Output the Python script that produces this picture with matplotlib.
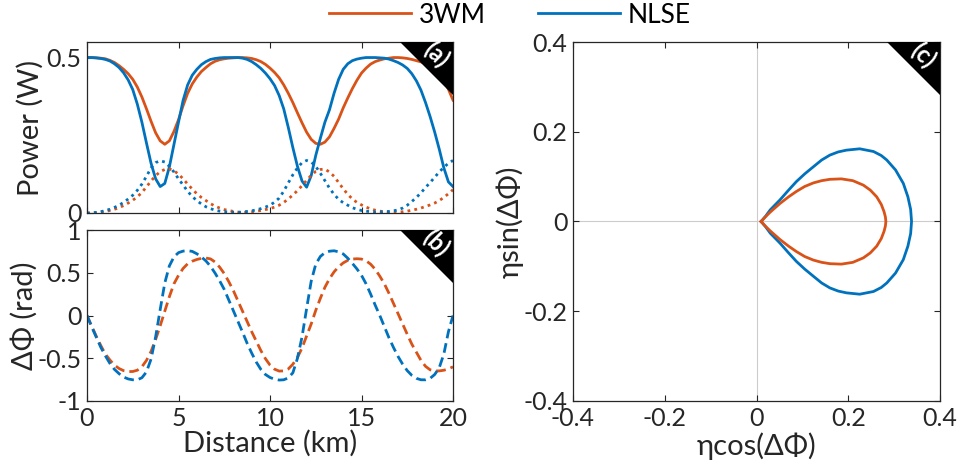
import matplotlib
matplotlib.use('Agg')
import matplotlib.pyplot as plt
from matplotlib.patches import Polygon
from matplotlib.lines import Line2D

plt.rcParams['font.family'] = ['Lato', 'Noto Sans']
plt.rcParams['axes.unicode_minus'] = False

# distance samples (km), every 0.25 km
distance_km = [0, 0.25, 0.5, 0.75, 1, 1.25, 1.5, 1.75, 2, 2.25,
               2.5, 2.75, 3, 3.25, 3.5, 3.75, 4, 4.25, 4.5, 4.75,
               5, 5.25, 5.5, 5.75, 6, 6.25, 6.5, 6.75, 7, 7.25,
               7.5, 7.75, 8, 8.25, 8.5, 8.75, 9, 9.25, 9.5, 9.75,
               10, 10.25, 10.5, 10.75, 11, 11.25, 11.5, 11.75, 12, 12.25,
               12.5, 12.75, 13, 13.25, 13.5, 13.75, 14, 14.25, 14.5, 14.75,
               15, 15.25, 15.5, 15.75, 16, 16.25, 16.5, 16.75, 17, 17.25,
               17.5, 17.75, 18, 18.25, 18.5, 18.75, 19, 19.25, 19.5, 19.75,
               20]

# pump power (W)
pump_3wm = [0.500, 0.500, 0.499, 0.498, 0.496, 0.491, 0.484, 0.474, 0.462, 0.448,
            0.430, 0.405, 0.373, 0.335, 0.295, 0.258, 0.232, 0.221, 0.232, 0.262,
            0.300, 0.345, 0.385, 0.415, 0.437, 0.455, 0.468, 0.480, 0.488, 0.493,
            0.496, 0.498, 0.499, 0.500, 0.500, 0.499, 0.497, 0.493, 0.487, 0.478,
            0.466, 0.452, 0.435, 0.412, 0.385, 0.355, 0.322, 0.290, 0.260, 0.237,
            0.224, 0.221, 0.228, 0.245, 0.272, 0.302, 0.338, 0.370, 0.400, 0.427,
            0.450, 0.466, 0.479, 0.487, 0.492, 0.496, 0.498, 0.500, 0.500, 0.499,
            0.497, 0.494, 0.490, 0.486, 0.480, 0.472, 0.462, 0.447, 0.427, 0.398,
            0.363]
pump_nlse = [0.500, 0.500, 0.499, 0.497, 0.494, 0.489, 0.480, 0.468, 0.451, 0.428,
             0.397, 0.350, 0.292, 0.225, 0.160, 0.110, 0.085, 0.095, 0.148, 0.220,
             0.292, 0.362, 0.412, 0.443, 0.462, 0.477, 0.487, 0.494, 0.497, 0.499,
             0.500, 0.500, 0.500, 0.500, 0.498, 0.494, 0.487, 0.477, 0.465, 0.450,
             0.432, 0.410, 0.378, 0.335, 0.275, 0.210, 0.150, 0.103, 0.083, 0.120,
             0.185, 0.240, 0.292, 0.332, 0.385, 0.430, 0.462, 0.480, 0.490, 0.495,
             0.498, 0.500, 0.500, 0.500, 0.499, 0.498, 0.495, 0.490, 0.484, 0.476,
             0.465, 0.448, 0.425, 0.395, 0.355, 0.310, 0.260, 0.205, 0.145, 0.100,
             0.085]

# sideband power (W)
side_3wm = [0.000, 0.000, 0.001, 0.003, 0.005, 0.008, 0.012, 0.017, 0.024, 0.032,
            0.041, 0.052, 0.066, 0.084, 0.103, 0.120, 0.133, 0.140, 0.142, 0.136,
            0.125, 0.110, 0.093, 0.077, 0.062, 0.050, 0.040, 0.030, 0.022, 0.016,
            0.011, 0.008, 0.005, 0.003, 0.002, 0.003, 0.004, 0.006, 0.008, 0.011,
            0.014, 0.019, 0.025, 0.034, 0.045, 0.058, 0.072, 0.088, 0.105, 0.121,
            0.134, 0.140, 0.141, 0.132, 0.118, 0.098, 0.078, 0.060, 0.045, 0.034,
            0.026, 0.019, 0.013, 0.009, 0.006, 0.004, 0.003, 0.003, 0.003, 0.004,
            0.006, 0.009, 0.012, 0.016, 0.021, 0.026, 0.032, 0.040, 0.050, 0.062,
            0.075]
side_nlse = [0.000, 0.000, 0.002, 0.004, 0.008, 0.012, 0.018, 0.025, 0.034, 0.045,
             0.057, 0.073, 0.093, 0.118, 0.145, 0.162, 0.168, 0.164, 0.150, 0.132,
             0.110, 0.090, 0.070, 0.053, 0.040, 0.029, 0.020, 0.014, 0.009, 0.006,
             0.004, 0.003, 0.002, 0.002, 0.003, 0.005, 0.007, 0.010, 0.014, 0.019,
             0.025, 0.035, 0.048, 0.070, 0.097, 0.123, 0.145, 0.162, 0.169, 0.164,
             0.150, 0.128, 0.104, 0.080, 0.060, 0.044, 0.033, 0.025, 0.017, 0.012,
             0.008, 0.006, 0.004, 0.003, 0.003, 0.004, 0.005, 0.007, 0.010, 0.016,
             0.025, 0.037, 0.050, 0.065, 0.082, 0.098, 0.115, 0.132, 0.147, 0.160,
             0.169]

# relative phase (rad)
dphi_3wm = [0.000, -0.120, -0.240, -0.350, -0.450, -0.520, -0.580, -0.620, -0.645, -0.656,
            -0.655, -0.640, -0.600, -0.525, -0.420, -0.280, -0.120, 0.050, 0.220, 0.370,
            0.470, 0.550, 0.605, 0.635, 0.655, 0.668, 0.672, 0.662, 0.625, 0.565,
            0.490, 0.395, 0.290, 0.170, 0.050, -0.070, -0.190, -0.300, -0.410, -0.505,
            -0.580, -0.628, -0.650, -0.648, -0.625, -0.570, -0.490, -0.380, -0.240, -0.100,
            0.060, 0.200, 0.330, 0.430, 0.510, 0.570, 0.615, 0.645, 0.660, 0.664,
            0.660, 0.640, 0.600, 0.540, 0.460, 0.370, 0.260, 0.140, 0.020, -0.100,
            -0.220, -0.335, -0.430, -0.525, -0.595, -0.635, -0.648, -0.648, -0.640, -0.625,
            -0.600]
dphi_nlse = [0.000, -0.130, -0.250, -0.370, -0.470, -0.560, -0.630, -0.680, -0.720, -0.742,
             -0.752, -0.752, -0.728, -0.660, -0.510, -0.250, 0.070, 0.380, 0.580, 0.685,
             0.735, 0.753, 0.758, 0.750, 0.722, 0.685, 0.638, 0.575, 0.495, 0.405,
             0.305, 0.180, 0.055, -0.070, -0.195, -0.325, -0.440, -0.545, -0.630, -0.690,
             -0.725, -0.745, -0.755, -0.752, -0.730, -0.670, -0.500, -0.250, 0.080, 0.400,
             0.600, 0.690, 0.735, 0.752, 0.757, 0.745, 0.720, 0.670, 0.610, 0.545,
             0.470, 0.370, 0.250, 0.120, 0.000, -0.130, -0.260, -0.375, -0.480, -0.570,
             -0.645, -0.700, -0.735, -0.752, -0.752, -0.735, -0.690, -0.610, -0.450, -0.190,
             0.000]

# phase portrait loops (eta*cos, eta*sin)
loop_3wm_x = [0.010, 0.020, 0.030, 0.051, 0.070, 0.087, 0.105, 0.124, 0.142, 0.160, 0.185, 0.210,
              0.233, 0.248, 0.262, 0.272, 0.278, 0.281, 0.282,
              0.281, 0.278, 0.272, 0.262, 0.248, 0.233, 0.210, 0.185, 0.160, 0.142, 0.124,
              0.105, 0.087, 0.070, 0.051, 0.030, 0.020, 0.010]
loop_3wm_y = [0.000, 0.011, 0.021, 0.040, 0.055, 0.067, 0.078, 0.086, 0.091, 0.094, 0.095, 0.091,
              0.081, 0.070, 0.055, 0.038, 0.022, 0.010, 0.000,
              -0.010, -0.022, -0.038, -0.055, -0.070, -0.081, -0.091, -0.095, -0.094, -0.091, -0.086,
              -0.078, -0.067, -0.055, -0.040, -0.021, -0.011, 0.000]
loop_nlse_x = [0.010, 0.020, 0.030, 0.051, 0.070, 0.087, 0.105, 0.124, 0.142, 0.160, 0.178, 0.196,
               0.225, 0.255, 0.272, 0.284, 0.303, 0.320, 0.330, 0.336, 0.338,
               0.336, 0.330, 0.320, 0.303, 0.284, 0.272, 0.255, 0.225, 0.196, 0.178, 0.160,
               0.142, 0.124, 0.105, 0.087, 0.070, 0.051, 0.030, 0.020, 0.010]
loop_nlse_y = [0.000, 0.012, 0.026, 0.048, 0.070, 0.089, 0.106, 0.122, 0.137, 0.148, 0.155, 0.159,
               0.162, 0.156, 0.147, 0.137, 0.115, 0.085, 0.055, 0.027, 0.000,
               -0.027, -0.055, -0.085, -0.115, -0.137, -0.147, -0.156, -0.162, -0.159, -0.155, -0.148,
               -0.137, -0.122, -0.106, -0.089, -0.070, -0.048, -0.026, -0.012, 0.000]

c_3wm = '#D95319'
c_nlse = '#0072BD'
dark = '#262626'
W, H = 961, 468
fs_tick = 18
fs_label = 21

fig = plt.figure(figsize=(W / 100, H / 100), dpi=100)
ax_a = fig.add_axes([87 / W, 1 - 213 / H, 366 / W, 171 / H])
ax_b = fig.add_axes([87 / W, 1 - 401 / H, 366 / W, 171 / H])
ax_c = fig.add_axes([573 / W, 1 - 401 / H, 367 / W, 359 / H])


def style(ax):
    for s in ax.spines.values():
        s.set_color(dark)
        s.set_linewidth(0.9)
    ax.tick_params(direction='in', top=True, right=True, length=4, width=0.8,
                   colors=dark, labelsize=fs_tick, labelcolor=dark, pad=4)


def corner_tag(ax, label):
    pos = ax.get_position()
    w = pos.width * W
    h = pos.height * H
    tri = Polygon([(1 - 53 / w, 1), (1, 1), (1, 1 - 53 / h)], closed=True,
                  transform=ax.transAxes, facecolor='black', edgecolor='none',
                  clip_on=False, zorder=5)
    ax.add_patch(tri)
    ax.text(1 - 17 / w, 1 - 13 / h, label, transform=ax.transAxes, rotation=-45,
            ha='center', va='center', color='white', fontsize=17, fontweight='bold',
            zorder=6)


# (a) power
ax_a.plot(distance_km, pump_3wm, color=c_3wm, lw=2)
ax_a.plot(distance_km, pump_nlse, color=c_nlse, lw=2)
ax_a.plot(distance_km, side_3wm, color=c_3wm, lw=2, dashes=(1, 1.5))
ax_a.plot(distance_km, side_nlse, color=c_nlse, lw=2, dashes=(1, 1.5))
ax_a.set_xlim(0, 20)
ax_a.set_ylim(0, 0.55)
ax_a.set_xticks([0, 5, 10, 15, 20])
ax_a.set_xticklabels([])
ax_a.set_yticks([0, 0.5])
ax_a.set_yticklabels(['0', '0.5'])
ax_a.set_ylabel('Power (W)', fontsize=fs_label, color=dark, labelpad=2)
style(ax_a)
corner_tag(ax_a, '(a)')

# (b) phase
ax_b.plot(distance_km, dphi_3wm, color=c_3wm, lw=2, dashes=(3.5, 1.8))
ax_b.plot(distance_km, dphi_nlse, color=c_nlse, lw=2, dashes=(3.5, 1.8))
ax_b.set_xlim(0, 20)
ax_b.set_ylim(-1, 1)
ax_b.set_xticks([0, 5, 10, 15, 20])
ax_b.set_yticks([-1, -0.5, 0, 0.5, 1])
ax_b.set_yticklabels(['-1', '-0.5', '0', '0.5', '1'])
ax_b.set_xlabel('Distance (km)', fontsize=fs_label, color=dark, labelpad=0)
ax_b.set_ylabel('ΔΦ (rad)', fontsize=fs_label, color=dark, labelpad=0)
style(ax_b)
corner_tag(ax_b, '(b)')

# (c) phase portrait
ax_c.axhline(0, color='#cccccc', lw=0.8, zorder=0)
ax_c.axvline(0, color='#cccccc', lw=0.8, zorder=0)
ax_c.plot(loop_nlse_x, loop_nlse_y, color=c_nlse, lw=2)
ax_c.plot(loop_3wm_x, loop_3wm_y, color=c_3wm, lw=2)
ax_c.set_xlim(-0.4, 0.4)
ax_c.set_ylim(-0.4, 0.4)
ticks = [-0.4, -0.2, 0, 0.2, 0.4]
tick_labels = ['-0.4', '-0.2', '0', '0.2', '0.4']
ax_c.set_xticks(ticks)
ax_c.set_xticklabels(tick_labels)
ax_c.set_yticks(ticks)
ax_c.set_yticklabels(tick_labels)
ax_c.set_xlabel('ηcos(ΔΦ)', fontsize=fs_label, color=dark, labelpad=2)
ax_c.set_ylabel('ηsin(ΔΦ)', fontsize=fs_label, color=dark, labelpad=0)
style(ax_c)
corner_tag(ax_c, '(c)')

handles = [Line2D([], [], color=c_3wm, lw=2), Line2D([], [], color=c_nlse, lw=2)]
fig.legend(handles, ['3WM', 'NLSE'], loc='upper center', bbox_to_anchor=(510 / W, 1.045),
           ncol=2, frameon=False, fontsize=19, handlelength=3.1, handletextpad=0.3,
           columnspacing=2.0)

fig.savefig('out.png', dpi=100)
